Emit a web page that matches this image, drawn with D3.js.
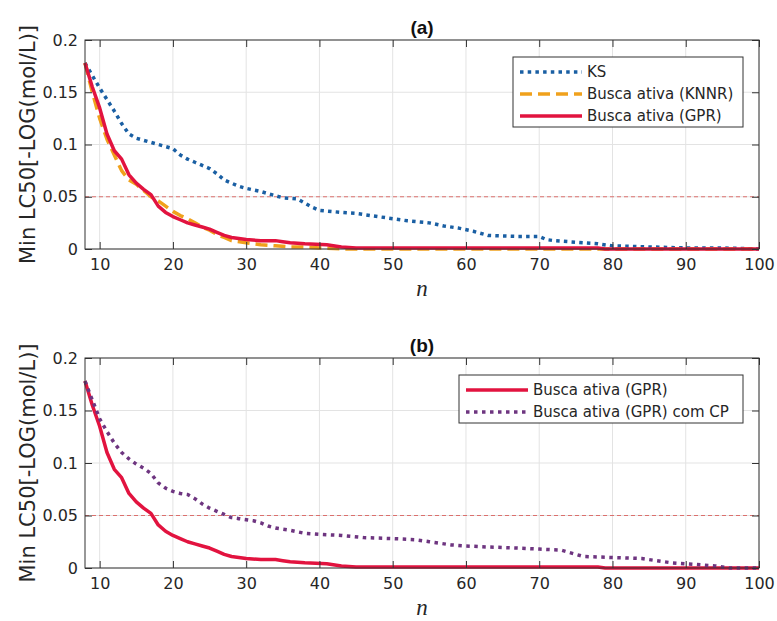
<!DOCTYPE html>
<html>
<head>
<meta charset="utf-8">
<script src="https://cdn.jsdelivr.net/npm/d3@7"></script>
<style>
    body { margin: 0; background: #fff; }
    svg { display: block; }
    .tick-label { font-family: "DejaVu Sans", sans-serif; font-size: 16px; fill: #262626; }
    .legend-text { font-family: "DejaVu Sans", sans-serif; font-size: 15px; fill: #262626; }
</style>
</head>
<body>
<div id="chart"></div>
<script>
// x ticks / y ticks
const xTicks = [10, 20, 30, 40, 50, 60, 70, 80, 90, 100];
const yTicks = [0, 0.05, 0.1, 0.15, 0.2];
const yTickLabels = ["0", "0.05", "0.1", "0.15", "0.2"];
const threshold = 0.05;

// KS (panel a)
const nKS = [8, 9, 10, 11, 12, 13, 14, 15, 16, 17, 18, 19, 20, 21, 22, 23, 24, 25, 26, 27, 28, 29, 30, 32, 34, 35, 37, 38, 39, 40, 43, 45, 47, 49, 52, 55, 57, 59, 61, 63, 67, 70, 71, 72, 76, 78, 80, 85, 90, 95, 100];
const vKS = [0.178, 0.166, 0.154, 0.143, 0.132, 0.120, 0.110, 0.106, 0.104, 0.102, 0.100, 0.098, 0.096, 0.090, 0.086, 0.083, 0.080, 0.077, 0.072, 0.066, 0.063, 0.060, 0.058, 0.055, 0.051, 0.049, 0.048, 0.044, 0.040, 0.037, 0.035, 0.034, 0.032, 0.030, 0.027, 0.025, 0.022, 0.020, 0.017, 0.013, 0.012, 0.012, 0.009, 0.008, 0.006, 0.005, 0.003, 0.002, 0.001, 0.001, 0.000];

// Busca ativa (KNNR)
const nKNNR = [8, 9, 10, 11, 12, 13, 14, 15, 16, 17, 18, 19, 20, 21, 22, 23, 24, 25, 26, 27, 28, 30, 32, 34, 36, 38, 40, 44, 100];
const vKNNR = [0.178, 0.150, 0.125, 0.105, 0.090, 0.075, 0.066, 0.062, 0.056, 0.050, 0.046, 0.041, 0.036, 0.032, 0.029, 0.025, 0.021, 0.018, 0.014, 0.011, 0.008, 0.006, 0.004, 0.003, 0.002, 0.002, 0.001, 0.000, 0.000];

// Busca ativa (GPR)
const nGPR = [8, 9, 10, 11, 12, 13, 14, 15, 16, 17, 18, 19, 20, 21, 22, 23, 24, 25, 26, 27, 28, 29, 30, 32, 34, 35, 36, 38, 41, 43, 45, 78, 79, 100];
const vGPR = [0.178, 0.155, 0.135, 0.110, 0.094, 0.086, 0.071, 0.063, 0.057, 0.052, 0.041, 0.035, 0.031, 0.028, 0.025, 0.023, 0.021, 0.019, 0.016, 0.013, 0.011, 0.010, 0.009, 0.008, 0.008, 0.007, 0.006, 0.005, 0.004, 0.002, 0.001, 0.001, 0.000, 0.000];

// Busca ativa (GPR) com CP (panel b)
const nCP = [8, 9, 10, 11, 12, 13, 14, 15, 16, 17, 18, 19, 20, 21, 22, 23, 24, 25, 26, 27, 28, 29, 30, 31, 32, 33, 34, 36, 38, 40, 43, 46, 50, 53, 55, 58, 60, 63, 67, 70, 73, 74, 76, 80, 84, 86, 88, 92, 94, 96, 100];
const vCP = [0.178, 0.160, 0.142, 0.130, 0.119, 0.110, 0.104, 0.099, 0.095, 0.090, 0.081, 0.076, 0.073, 0.071, 0.070, 0.066, 0.061, 0.057, 0.054, 0.051, 0.048, 0.047, 0.046, 0.045, 0.043, 0.040, 0.038, 0.036, 0.033, 0.032, 0.031, 0.029, 0.028, 0.027, 0.025, 0.022, 0.021, 0.020, 0.019, 0.018, 0.017, 0.015, 0.011, 0.010, 0.009, 0.007, 0.005, 0.003, 0.002, 0.000, 0.000];

const styles = {
    ks:   { color: "#1a5fa3", width: 3.5, dash: "3.5,4.2", label: "KS" },
    knnr: { color: "#f0a11c", width: 3.5, dash: "12,6", label: "Busca ativa (KNNR)" },
    gpr:  { color: "#e2133f", width: 3.5, dash: null, label: "Busca ativa (GPR)" },
    cp:   { color: "#6e3580", width: 3.5, dash: "3.5,4.5", label: "Busca ativa (GPR) com CP" }
};

const W = 777, H = 621;
const left = 85, right = 759;

const svg = d3.select("#chart").append("svg")
    .attr("width", W)
    .attr("height", H);

function zip(ns, vs) {
    return ns.map((n, i) => ({ n: n, v: vs[i] }));
}

function drawPanel(top, bottom, title, series, legendBox) {
    const x = d3.scaleLinear().domain([8, 100]).range([left, right]);
    const y = d3.scaleLinear().domain([0, 0.2]).range([bottom, top]);
    const g = svg.append("g");

    // grid
    g.selectAll(".gx").data(xTicks).enter().append("line")
        .attr("x1", d => x(d)).attr("x2", d => x(d))
        .attr("y1", top).attr("y2", bottom)
        .attr("stroke", "#e3e3e3").attr("stroke-width", 1);
    g.selectAll(".gy").data(yTicks).enter().append("line")
        .attr("x1", left).attr("x2", right)
        .attr("y1", d => y(d)).attr("y2", d => y(d))
        .attr("stroke", "#e3e3e3").attr("stroke-width", 1);

    // threshold
    g.append("line")
        .attr("x1", left).attr("x2", right)
        .attr("y1", y(threshold)).attr("y2", y(threshold))
        .attr("stroke", "#d9534f")
        .attr("stroke-width", 0.8)
        .attr("stroke-dasharray", "4,3");

    // curves
    const line = d3.line().x(d => x(d.n)).y(d => y(d.v));
    series.forEach(s => {
        const st = styles[s.key];
        g.append("path")
            .datum(zip(s.n, s.v))
            .attr("d", line)
            .attr("fill", "none")
            .attr("stroke", st.color)
            .attr("stroke-width", st.width)
            .attr("stroke-linejoin", "round")
            .attr("stroke-dasharray", st.dash);
    });

    // axes (ticks inward, box)
    const xAxis = d3.axisBottom(x).tickValues(xTicks).tickSizeInner(-7).tickSizeOuter(0).tickPadding(10);
    const yAxis = d3.axisLeft(y).tickValues(yTicks).tickSizeInner(-7).tickSizeOuter(0).tickPadding(7)
        .tickFormat((d, i) => yTickLabels[i]);
    const xTop = d3.axisTop(x).tickValues(xTicks).tickSizeInner(-7).tickSizeOuter(0).tickFormat("");
    const yRight = d3.axisRight(y).tickValues(yTicks).tickSizeInner(-7).tickSizeOuter(0).tickFormat("");

    const gx = g.append("g").attr("transform", `translate(0,${bottom})`).call(xAxis);
    const gy = g.append("g").attr("transform", `translate(${left},0)`).call(yAxis);
    const gxt = g.append("g").attr("transform", `translate(0,${top})`).call(xTop);
    const gyr = g.append("g").attr("transform", `translate(${right},0)`).call(yRight);
    [gx, gy, gxt, gyr].forEach(a => {
        a.select(".domain").remove();
        a.selectAll("line").attr("stroke", "#333").attr("stroke-width", 1);
        a.selectAll("text").attr("class", "tick-label").attr("fill", null);
    });
    g.append("rect")
        .attr("x", left).attr("y", top)
        .attr("width", right - left).attr("height", bottom - top)
        .attr("fill", "none").attr("stroke", "#333").attr("stroke-width", 1);

    // title
    g.append("text")
        .attr("x", (left + right) / 2)
        .attr("y", top - 6)
        .attr("text-anchor", "middle")
        .style("font-family", "'Liberation Sans', Arial, sans-serif")
        .style("font-weight", "bold")
        .style("font-size", "19px")
        .attr("fill", "#111")
        .text(title);

    // x label
    g.append("text")
        .attr("x", (left + right) / 2)
        .attr("y", bottom + 47)
        .attr("text-anchor", "middle")
        .style("font-family", "'Liberation Serif', 'Times New Roman', serif")
        .style("font-style", "italic")
        .style("font-size", "23px")
        .attr("fill", "#262626")
        .text("n");

    // y label
    g.append("text")
        .attr("transform", `translate(35,${(top + bottom) / 2}) rotate(-90)`)
        .attr("text-anchor", "middle")
        .style("font-family", "'DejaVu Sans', sans-serif")
        .style("font-size", "21px")
        .attr("fill", "#262626")
        .text("Min LC50[-LOG(mol/L)]");

    // legend
    const lg = g.append("g");
    lg.append("rect")
        .attr("x", legendBox.x).attr("y", legendBox.y)
        .attr("width", legendBox.w).attr("height", legendBox.h)
        .attr("fill", "#fff").attr("stroke", "#333").attr("stroke-width", 1);
    series.forEach((s, i) => {
        const st = styles[s.key];
        const cy = legendBox.y + 15 + i * 22;
        lg.append("line")
            .attr("x1", legendBox.x + 7).attr("x2", legendBox.x + 69)
            .attr("y1", cy).attr("y2", cy)
            .attr("stroke", st.color)
            .attr("stroke-width", st.width)
            .attr("stroke-dasharray", st.dash);
        lg.append("text")
            .attr("class", "legend-text")
            .attr("x", legendBox.x + 74)
            .attr("y", cy)
            .attr("dy", "0.35em")
            .text(st.label);
    });
}

drawPanel(40, 249, "(a)", [
    { key: "ks", n: nKS, v: vKS },
    { key: "knnr", n: nKNNR, v: vKNNR },
    { key: "gpr", n: nGPR, v: vGPR }
], { x: 513, y: 57, w: 230, h: 70 });

drawPanel(358, 568, "(b)", [
    { key: "gpr", n: nGPR, v: vGPR },
    { key: "cp", n: nCP, v: vCP }
], { x: 459, y: 375, w: 284, h: 48 });
</script>
</body>
</html>
